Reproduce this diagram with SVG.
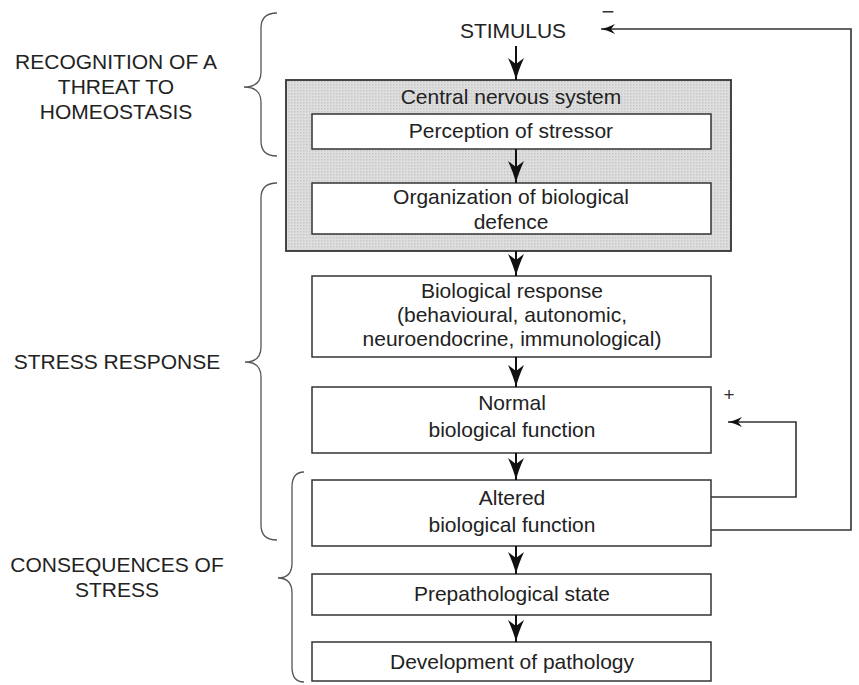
<svg xmlns="http://www.w3.org/2000/svg" width="859" height="685" viewBox="0 0 859 685">
<style>
text{font-family:"Liberation Sans",Arial,sans-serif;font-size:21px;fill:#222;text-anchor:middle}
.box{fill:#fff;stroke:#333;stroke-width:1.5}
.cns{stroke:#333;stroke-width:1.8}
.arr{fill:none;stroke:#111;stroke-width:2}
.fb{fill:none;stroke:#333;stroke-width:1.6}
.brace{fill:none;stroke:#555;stroke-width:1.3}
.sign{fill:#333}
</style>
<defs>
<marker id="big" viewBox="0 0 22 16" refX="22" refY="8" markerWidth="22" markerHeight="16" markerUnits="userSpaceOnUse" orient="auto">
<path d="M0,0 Q12,5.5 22,8 Q12,10.5 0,16 L6,8 Z" fill="#111"/>
</marker>
<marker id="small" viewBox="0 0 14 10" refX="14" refY="5" markerWidth="14" markerHeight="10" markerUnits="userSpaceOnUse" orient="auto">
<path d="M0,0 Q8,4 14,5 Q8,6 0,10 L4,5 Z" fill="#111"/>
</marker>
<pattern id="dots" width="3" height="3" patternUnits="userSpaceOnUse">
<rect width="3" height="3" fill="#dedede"/>
<rect width="1.5" height="1.5" fill="#c8c8c8"/>
</pattern>
</defs>

<g id="label-recognition">
<text x="116" y="69">RECOGNITION OF A</text>
<text x="116" y="94">THREAT TO</text>
<text x="116" y="119">HOMEOSTASIS</text>
<path class="brace" d="M277,13 Q261,13 261,28 L261,72 Q261,87 244,87 Q261,87 261,102 L261,141 Q261,156 277,156"/>
</g>
<g id="label-stress-response">
<text x="117" y="369">STRESS RESPONSE</text>
<path class="brace" d="M277,183 Q261,183 261,198 L261,347 Q261,362 245,362 Q261,362 261,377 L261,525 Q261,540 277,540"/>
</g>
<g id="label-consequences">
<text x="117" y="572">CONSEQUENCES OF</text>
<text x="117" y="597">STRESS</text>
<path class="brace" d="M304,472 Q292,472 292,487 L292,563 Q292,578 278,578 Q292,578 292,593 L292,667 Q292,682 304,682"/>
</g>

<g id="stimulus">
<text x="513" y="38">STIMULUS</text>
</g>
<g id="cns">
<rect class="cns" x="286" y="80" width="445" height="171" fill="url(#dots)"/>
<text x="511" y="104">Central nervous system</text>
</g>
<g id="perception">
<rect class="box" x="312" y="114" width="399" height="35"/>
<text x="511" y="138">Perception of stressor</text>
</g>
<g id="organization">
<rect class="box" x="312" y="183" width="399" height="51"/>
<text x="511" y="204">Organization of biological</text>
<text x="511" y="229">defence</text>
</g>
<g id="bio-response">
<rect class="box" x="312" y="276" width="399" height="81"/>
<text x="512" y="298">Biological response</text>
<text x="512" y="322">(behavioural, autonomic,</text>
<text x="512" y="346">neuroendocrine, immunological)</text>
</g>
<g id="normal">
<rect class="box" x="312" y="387" width="399" height="66"/>
<text x="512" y="410">Normal</text>
<text x="512" y="437">biological function</text>
</g>
<g id="altered">
<rect class="box" x="312" y="480" width="399" height="66"/>
<text x="512" y="505">Altered</text>
<text x="512" y="532">biological function</text>
</g>
<g id="prepathological">
<rect class="box" x="312" y="574" width="399" height="41"/>
<text x="512" y="601">Prepathological state</text>
</g>
<g id="pathology">
<rect class="box" x="312" y="642" width="399" height="39"/>
<text x="512" y="669">Development of pathology</text>
</g>

<g id="connectors">
<line class="arr" x1="516" y1="46" x2="516" y2="80" marker-end="url(#big)"/>
<line class="arr" x1="516" y1="149" x2="516" y2="183" marker-end="url(#big)"/>
<line class="arr" x1="516" y1="251" x2="516" y2="276" marker-end="url(#big)"/>
<line class="arr" x1="516" y1="357" x2="516" y2="387" marker-end="url(#big)"/>
<line class="arr" x1="516" y1="453" x2="516" y2="480" marker-end="url(#big)"/>
<line class="arr" x1="516" y1="546" x2="516" y2="574" marker-end="url(#big)"/>
<line class="arr" x1="516" y1="615" x2="516" y2="642" marker-end="url(#big)"/>
<path class="fb" d="M711,530 L851,530 L851,29 L601,29" marker-end="url(#small)"/>
<path class="fb" d="M711,497 L796,497 L796,422 L728,422" marker-end="url(#small)"/>
<text class="sign" x="608" y="19" style="font-size:22px">−</text>
<text class="sign" x="729" y="401" style="font-size:19px">+</text>
</g>
</svg>
